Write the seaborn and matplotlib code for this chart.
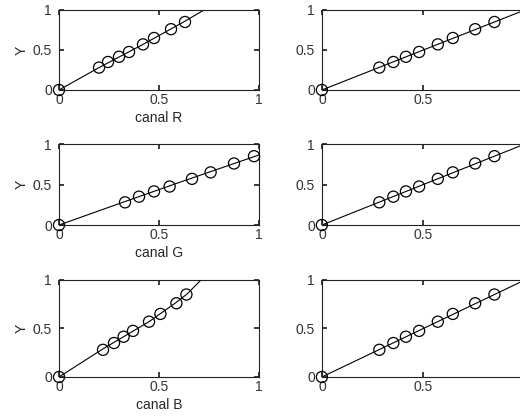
import numpy as np
import pandas as pd
import matplotlib
matplotlib.use("Agg")
import matplotlib.pyplot as plt
import seaborn as sns

# luminance Y of the gray patches (same in every panel)
y_vals = [0, 0.28, 0.35, 0.415, 0.475, 0.57, 0.65, 0.76, 0.85]

# channel values (left column)
r_vals = [0, 0.20, 0.245, 0.30, 0.35, 0.42, 0.475, 0.56, 0.63]
g_vals = [0, 0.33, 0.40, 0.475, 0.553, 0.665, 0.758, 0.875, 0.975]
b_vals = [0, 0.22, 0.275, 0.323, 0.37, 0.45, 0.507, 0.587, 0.637]

# fitted curves (left column)
r_fit_x = [0, 0.20, 0.42, 0.63, 0.725]
r_fit_y = [0, 0.28, 0.57, 0.86, 1.0]
g_fit_x = [0, 0.33, 0.665, 1.0]
g_fit_y = [0, 0.29, 0.58, 0.865]
b_fit_x = [0, 0.22, 0.45, 0.587, 0.64, 0.71]
b_fit_y = [0, 0.29, 0.57, 0.77, 0.855, 1.0]

# corrected values (right column)
corr_vals = [0, 0.283, 0.352, 0.414, 0.479, 0.571, 0.645, 0.755, 0.85]
corr_fit = [0, 1.0]

channels = ["canal R", "canal G", "canal B"]

sns.set_theme(style="ticks")
plt.rcParams['font.family'] = ['Liberation Sans', 'DejaVu Sans']
plt.rcParams.update({
    'font.size': 10,
    'axes.labelsize': 10,
    'xtick.direction': 'in',
    'ytick.direction': 'in',
    'xtick.top': True,
    'ytick.right': True,
    'xtick.major.size': 3.5,
    'ytick.major.size': 3.5,
    'xtick.major.pad': 2,
    'ytick.major.pad': 5,
    'xtick.labelsize': 10,
    'ytick.labelsize': 10,
    'axes.linewidth': 0.8,
    'axes.edgecolor': '#222222',
    'text.color': '#333333',
    'xtick.color': '#222222',
    'ytick.color': '#222222',
    'xtick.labelcolor': '#333333',
    'ytick.labelcolor': '#333333',
})

fig = plt.figure(figsize=(5.2, 4.16), dpi=100)

rows = [(0.7837, 0.1923), (0.4591, 0.1947), (0.0938, 0.2332)]
left_data = [(r_vals, r_fit_x, r_fit_y), (g_vals, g_fit_x, g_fit_y), (b_vals, b_fit_x, b_fit_y)]

for i, (bottom, height) in enumerate(rows):
    # left column: Y vs channel
    ax = fig.add_axes([0.1135, bottom, 0.3846, height])
    xs, fx, fy = left_data[i]
    sns.lineplot(x=fx, y=fy, ax=ax, color='black', linewidth=0.8, sort=False)
    sns.scatterplot(x=xs, y=y_vals, ax=ax, marker='o', s=64, facecolors='none',
                    edgecolor='black', linewidth=0.9, clip_on=False, zorder=3)
    ax.set_xlim(0, 1)
    ax.set_ylim(0, 1)
    ax.set_xticks([0, 0.5, 1])
    ax.set_yticks([0, 0.5, 1])
    ax.set_xticklabels(['0', '0.5', '1'])
    ax.set_yticklabels(['0', '0.5', '1'])
    ax.set_xlabel(channels[i], labelpad=3)
    ax.set_ylabel('Y', labelpad=3)

    # right column: after correction (right edge falls outside the picture)
    ax2 = fig.add_axes([0.619, bottom, 0.3904, height])
    sns.lineplot(x=corr_fit, y=corr_fit, ax=ax2, color='black', linewidth=0.8)
    sns.scatterplot(x=corr_vals, y=y_vals, ax=ax2, marker='o', s=64, facecolors='none',
                    edgecolor='black', linewidth=0.9, clip_on=False, zorder=3)
    ax2.set_xlim(0, 1)
    ax2.set_ylim(0, 1)
    ax2.set_xticks([0, 0.5, 1])
    ax2.set_yticks([0, 0.5, 1])
    ax2.set_xticklabels(['0', '0.5', ''])
    ax2.set_yticklabels(['0', '0.5', '1'])

fig.savefig('out.png', dpi=100)
